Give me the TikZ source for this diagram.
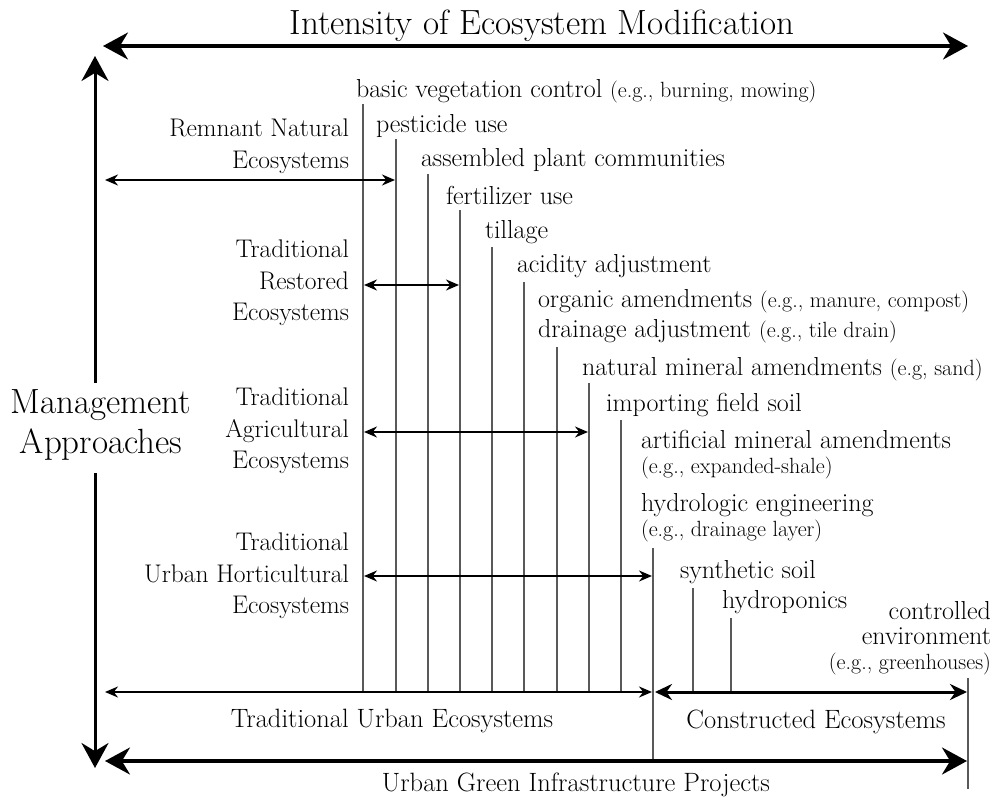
\documentclass[tikz,border=0pt]{standalone}
\usetikzlibrary{arrows.meta}

\newcommand{\egnote}[1]{{\fontsize{22}{24}\selectfont(e.g., #1)}}

\begin{document}
\begin{tikzpicture}[x=1pt, y=-1pt,
  every node/.style = {inner sep=0pt, outer sep=0pt},
  big/.style = {font=\fontsize{35}{40}\selectfont, align=center},
  group/.style = {font=\fontsize{25.5}{31.5}\selectfont, align=right, anchor=east},
  item/.style = {font=\fontsize{26}{25}\selectfont, align=left, anchor=west},
  rangelabel/.style = {font=\fontsize{26.5}{30}\selectfont},
  tick/.style = {draw=black!65, line width=1.1pt},
  span/.style = {line width=1.8pt,
    {Stealth[length=13pt,width=11pt]}-{Stealth[length=13pt,width=11pt]}},
  midspan/.style = {line width=3pt,
    {Stealth[length=17pt,width=16pt]}-{Stealth[length=17pt,width=16pt]}},
  wide/.style = {line width=3.2pt,
    {Stealth[length=25pt,width=27pt]}-{Stealth[length=25pt,width=27pt]}},
  axisend/.style = {line width=3pt, -{Stealth[length=25pt,width=27pt]}}]
  \useasboundingbox (0,0) rectangle (994,798);

  % titles of the two axes
  \node[big] (title) at (542,26) {Intensity of Ecosystem Modification};
  \node[big] (mgmt) at (101,425) {Management\\Approaches};
  \coordinate (hL) at (103,46);
  \coordinate (hR) at (968,46);
  \draw[wide] (hL) -- (hR);
  \coordinate (vtop) at (95,56);
  \coordinate (vgap1) at (95,383);
  \coordinate (vgap2) at (95,473);
  \coordinate (vbot) at (95,768);
  \draw[axisend] (vgap1) -- (vtop);
  \draw[axisend] (vgap2) -- (vbot);

  % management approaches
  \node[group] (remnant) at (349,146) {Remnant Natural\\Ecosystems};
  \node[group] (restored) at (349,283) {Traditional\\Restored\\Ecosystems};
  \node[group] (agri) at (349,431) {Traditional\\Agricultural\\Ecosystems};
  \node[group] (horti) at (349,576) {Traditional\\Urban Horticultural\\Ecosystems};

  % practices, one line each
  \node[item] (veg) at (356,91) {basic vegetation control \egnote{burning, mowing}};
  \node[item] (pest) at (376,126) {pesticide use};
  \node[item] (plant) at (421,160) {assembled plant communities};
  \node[item] (fert) at (446,195) {fertilizer use};
  \node[item] (till) at (485,232) {tillage};
  \node[item] (acid) at (517,266) {acidity adjustment};
  \node[item] (organic) at (538,301) {organic amendments \egnote{manure, compost}};
  \node[item] (drain) at (538,331) {drainage adjustment \egnote{tile drain}};
  \node[item] (natmin) at (582,369) {natural mineral amendments {\fontsize{22}{24}\selectfont(e.g, sand)}};
  \node[item] (soil) at (606,405) {importing field soil};
  \node[item] (artmin) at (641,455) {artificial mineral amendments\\\egnote{expanded-shale}};
  \node[item] (hydro) at (641,518) {hydrologic engineering\\\egnote{drainage layer}};
  \node[item] (synth) at (680,572) {synthetic soil};
  \node[item] (hpon) at (722,602) {hydroponics};
  \node[item, anchor=east, align=right] (ctrl) at (991,638)
    {controlled\\environment\\\egnote{greenhouses}};

  % vertical marks
  \foreach \x/\y in {363/104, 396/139, 428/174, 460/210, 492/247,
                     524/282, 557/347, 589/383, 621/420, 693/588, 731/618}
    \draw[tick] (\x,\y) -- (\x,692);
  \draw[tick] (653,548) -- (653,762);
  \draw[tick] (968,678) -- (968,789);

  % ranges of the approaches
  \coordinate (remL) at (105,180);
  \coordinate (remR) at (395,180);
  \draw[span] (remL) -- (remR);
  \coordinate (resL) at (364,285);
  \coordinate (resR) at (459,285);
  \draw[span] (resL) -- (resR);
  \coordinate (agrL) at (364,432);
  \coordinate (agrR) at (588,432);
  \draw[span] (agrL) -- (agrR);
  \coordinate (horL) at (364,576);
  \coordinate (horR) at (652,576);
  \draw[span] (horL) -- (horR);

  % bottom ranges
  \node[rangelabel] (tue) at (392,721) {Traditional Urban Ecosystems};
  \node[rangelabel] (ce) at (816,722) {Constructed Ecosystems};
  \node[rangelabel] (ugip) at (576,785) {Urban Green Infrastructure Projects};
  \coordinate (tueL) at (105,692);
  \coordinate (tueR) at (652,692);
  \draw[span] (tueL) -- (tueR);
  \coordinate (ceL) at (655,692);
  \coordinate (ceR) at (967,692);
  \draw[midspan] (ceL) -- (ceR);
  \coordinate (ugL) at (105,761);
  \coordinate (ugR) at (967,761);
  \draw[wide] (ugL) -- (ugR);
\end{tikzpicture}
\end{document}
